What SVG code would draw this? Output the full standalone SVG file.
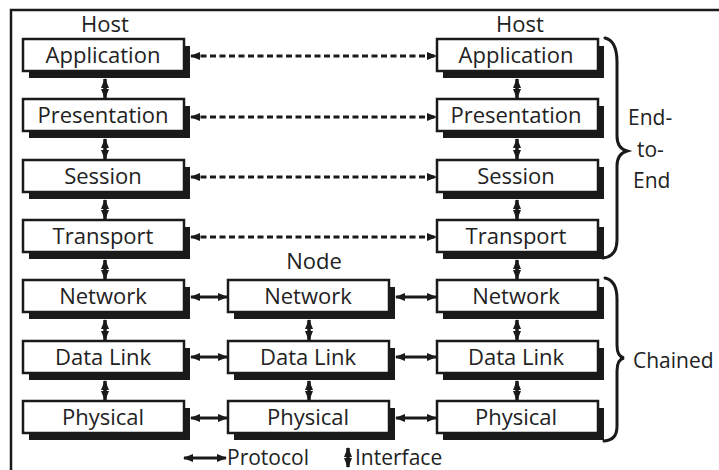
<svg xmlns="http://www.w3.org/2000/svg" width="719" height="470" viewBox="0 0 719 470">
  <style>
    .frame { stroke: #1a1a1a; stroke-width: 2.5; fill: none; }
    .shadow { fill: #1a1a1a; }
    .box { fill: #ffffff; stroke: #1a1a1a; stroke-width: 2.5; }
    .label { font-family: "Open Sans", "Noto Sans", "DejaVu Sans", sans-serif; font-size: 22px; fill: #222222; text-anchor: middle; }
    .note { font-family: "Open Sans", "Noto Sans", "DejaVu Sans", sans-serif; font-size: 21px; fill: #222222; }
    .proto { stroke: #1a1a1a; stroke-width: 3; fill: none; marker-start: url(#head); marker-end: url(#head); }
    .dashed { stroke-dasharray: 6 3.5; }
    .iface { stroke: #1a1a1a; stroke-width: 3.5; fill: none; marker-start: url(#head); marker-end: url(#head); }
    .brace { stroke: #1a1a1a; stroke-width: 3; fill: none; stroke-linecap: round; }
  </style>
  <defs>
    <marker id="head" viewBox="0 0 10 8" refX="9" refY="4" markerWidth="10" markerHeight="8" markerUnits="userSpaceOnUse" orient="auto-start-reverse">
      <path d="M0,0 L10,4 L0,8 Z" fill="#1a1a1a"/>
    </marker>
  </defs>

  <!-- page frame: left and top rules -->
  <path class="frame" d="M11,470 L11,10 L719,10"/>

  <!-- column headings -->
  <text class="label" x="105" y="32">Host</text>
  <text class="label" x="520" y="32">Host</text>
  <text class="label" x="314" y="269">Node</text>

  <!-- left host stack -->
  <g id="h1-application"><rect class="shadow" x="29" y="46" width="161" height="32"/><rect class="box" x="23" y="39" width="161" height="32"/><text class="label" x="103" y="63">Application</text></g>
  <g id="h1-presentation"><rect class="shadow" x="29" y="106" width="161" height="32"/><rect class="box" x="23" y="99" width="161" height="32"/><text class="label" x="103" y="123">Presentation</text></g>
  <g id="h1-session"><rect class="shadow" x="29" y="167" width="161" height="32"/><rect class="box" x="23" y="160" width="161" height="32"/><text class="label" x="103" y="184">Session</text></g>
  <g id="h1-transport"><rect class="shadow" x="29" y="227" width="161" height="32"/><rect class="box" x="23" y="220" width="161" height="32"/><text class="label" x="103" y="244">Transport</text></g>
  <g id="h1-network"><rect class="shadow" x="29" y="287" width="161" height="32"/><rect class="box" x="23" y="280" width="161" height="32"/><text class="label" x="103" y="304">Network</text></g>
  <g id="h1-datalink"><rect class="shadow" x="29" y="348" width="161" height="32"/><rect class="box" x="23" y="341" width="161" height="32"/><text class="label" x="103" y="365">Data Link</text></g>
  <g id="h1-physical"><rect class="shadow" x="29" y="408" width="161" height="32"/><rect class="box" x="23" y="401" width="161" height="32"/><text class="label" x="103" y="425">Physical</text></g>

  <!-- intermediate node stack -->
  <g id="n-network"><rect class="shadow" x="234" y="287" width="161" height="32"/><rect class="box" x="228" y="280" width="161" height="32"/><text class="label" x="308" y="304">Network</text></g>
  <g id="n-datalink"><rect class="shadow" x="234" y="348" width="161" height="32"/><rect class="box" x="228" y="341" width="161" height="32"/><text class="label" x="308" y="365">Data Link</text></g>
  <g id="n-physical"><rect class="shadow" x="234" y="408" width="161" height="32"/><rect class="box" x="228" y="401" width="161" height="32"/><text class="label" x="308" y="425">Physical</text></g>

  <!-- right host stack -->
  <g id="h2-application"><rect class="shadow" x="443" y="46" width="161" height="32"/><rect class="box" x="437" y="39" width="161" height="32"/><text class="label" x="516" y="63">Application</text></g>
  <g id="h2-presentation"><rect class="shadow" x="443" y="106" width="161" height="32"/><rect class="box" x="437" y="99" width="161" height="32"/><text class="label" x="516" y="123">Presentation</text></g>
  <g id="h2-session"><rect class="shadow" x="443" y="167" width="161" height="32"/><rect class="box" x="437" y="160" width="161" height="32"/><text class="label" x="516" y="184">Session</text></g>
  <g id="h2-transport"><rect class="shadow" x="443" y="227" width="161" height="32"/><rect class="box" x="437" y="220" width="161" height="32"/><text class="label" x="516" y="244">Transport</text></g>
  <g id="h2-network"><rect class="shadow" x="443" y="287" width="161" height="32"/><rect class="box" x="437" y="280" width="161" height="32"/><text class="label" x="516" y="304">Network</text></g>
  <g id="h2-datalink"><rect class="shadow" x="443" y="348" width="161" height="32"/><rect class="box" x="437" y="341" width="161" height="32"/><text class="label" x="516" y="365">Data Link</text></g>
  <g id="h2-physical"><rect class="shadow" x="443" y="408" width="161" height="32"/><rect class="box" x="437" y="401" width="161" height="32"/><text class="label" x="516" y="425">Physical</text></g>

  <!-- connectors -->
  <g id="connectors">
    <!-- peer protocols, end to end -->
    <line class="proto dashed" x1="191" y1="56" x2="436" y2="56"/>
    <line class="proto dashed" x1="191" y1="117" x2="436" y2="117"/>
    <line class="proto dashed" x1="191" y1="177" x2="436" y2="177"/>
    <line class="proto dashed" x1="191" y1="237" x2="436" y2="237"/>
    <!-- peer protocols, hop by hop -->
    <line class="proto" x1="191" y1="297" x2="227" y2="297"/>
    <line class="proto" x1="396" y1="297" x2="436" y2="297"/>
    <line class="proto" x1="191" y1="357" x2="227" y2="357"/>
    <line class="proto" x1="396" y1="357" x2="436" y2="357"/>
    <line class="proto" x1="191" y1="418" x2="227" y2="418"/>
    <line class="proto" x1="396" y1="418" x2="436" y2="418"/>
    <!-- layer interfaces, left host -->
    <line class="iface" x1="105" y1="79" x2="105" y2="98"/>
    <line class="iface" x1="105" y1="139" x2="105" y2="159"/>
    <line class="iface" x1="105" y1="200" x2="105" y2="219"/>
    <line class="iface" x1="105" y1="260" x2="105" y2="279"/>
    <line class="iface" x1="105" y1="320" x2="105" y2="340"/>
    <line class="iface" x1="105" y1="381" x2="105" y2="400"/>
    <!-- layer interfaces, node -->
    <line class="iface" x1="309" y1="320" x2="309" y2="340"/>
    <line class="iface" x1="309" y1="381" x2="309" y2="400"/>
    <!-- layer interfaces, right host -->
    <line class="iface" x1="517" y1="79" x2="517" y2="98"/>
    <line class="iface" x1="517" y1="139" x2="517" y2="159"/>
    <line class="iface" x1="517" y1="200" x2="517" y2="219"/>
    <line class="iface" x1="517" y1="260" x2="517" y2="279"/>
    <line class="iface" x1="517" y1="320" x2="517" y2="340"/>
    <line class="iface" x1="517" y1="381" x2="517" y2="400"/>
  </g>

  <!-- grouping braces -->
  <path class="brace" d="M605,38 C614,40 617,50 617,62 L617,136 C617,144 620,149 627,151 C620,153 617,158 617,166 L617,240 C617,252 612,257 603,258"/>
  <path class="brace" d="M605,278 C614,280 617,289 617,299 L617,345 C617,353 619,357 624,358 C619,359 617,363 617,371 L617,426 C617,436 613,440 604,441"/>
  <text class="note" x="628" y="125">End-</text>
  <text class="note" x="637" y="157">to-</text>
  <text class="note" x="633" y="188">End</text>
  <text class="note" x="633" y="368">Chained</text>

  <!-- legend -->
  <line class="proto" x1="184" y1="458" x2="226" y2="458"/>
  <text class="note" x="227" y="465">Protocol</text>
  <line class="iface" x1="348" y1="448" x2="348" y2="467"/>
  <text class="note" x="355" y="465">Interface</text>
</svg>
